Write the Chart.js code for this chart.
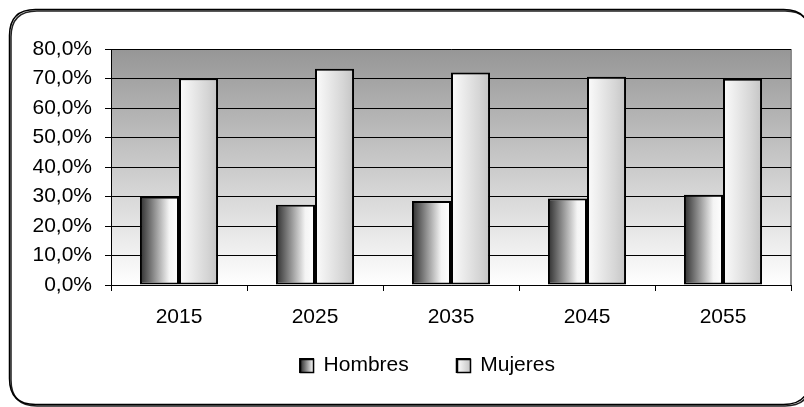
<!DOCTYPE html>
<html>
<head>
<meta charset="utf-8">
<script src="https://cdn.jsdelivr.net/npm/chart.js@4"></script>
<style>
  html, body { margin: 0; padding: 0; background: #fff; }
  #wrap { width: 804px; height: 407px; }
</style>
</head>
<body>
<div id="wrap"><canvas id="myChart" width="804" height="407"></canvas></div>
<script>
// Data
const years = ['2015', '2025', '2035', '2045', '2055'];
const seriesNames = ['Hombres', 'Mujeres'];
const hombres = [29.9, 27.2, 28.5, 29.3, 30.6];
const mujeres = [70.1, 73.3, 72.0, 70.6, 69.9];

const catPct = 0.574;

// gradient for each bar, worked out from the x scale
function barFill(stops) {
    return function (context) {
        const chart = context.chart;
        const xScale = chart.scales.x;
        if (!xScale || context.type !== 'data') {
            return stops[1];
        }
        const center = xScale.getPixelForValue(context.dataIndex);
        const barWidth = xScale.width / years.length * catPct / 2;
        const left = context.datasetIndex === 0 ? center - barWidth : center;
        if (!isFinite(left) || !isFinite(barWidth) || barWidth <= 0) {
            return stops[1];
        }
        const g = chart.ctx.createLinearGradient(left, 0, left + barWidth, 0);
        g.addColorStop(0, stops[0]);
        g.addColorStop(0.75, stops[1]);
        g.addColorStop(1, stops[2]);
        return g;
    };
}
const hombresStops = ['#2e2e2e', '#f4f4f4', '#ffffff'];
const mujeresStops = ['#fcfcfc', '#d4d4d4', '#c4c4c4'];

function roundRect(ctx, x, y, w, h, r) {
    ctx.beginPath();
    ctx.moveTo(x + r, y);
    ctx.lineTo(x + w - r, y);
    ctx.quadraticCurveTo(x + w, y, x + w, y + r);
    ctx.lineTo(x + w, y + h - r);
    ctx.quadraticCurveTo(x + w, y + h, x + w - r, y + h);
    ctx.lineTo(x + r, y + h);
    ctx.quadraticCurveTo(x, y + h, x, y + h - r);
    ctx.lineTo(x, y + r);
    ctx.quadraticCurveTo(x, y, x + r, y);
    ctx.closePath();
}

const frame = {
    id: 'frame',
    afterLayout: (chart) => {
        // legend sits a bit right of centre, with wide gaps between items
        const lg = chart.legend;
        lg.left = 62;
        lg.right = chart.chartArea.right + 2;
        lg.width = lg.right - lg.left;
        lg.top = 307;
        lg.bottom = 386;
        lg.height = lg.bottom - lg.top;
    },
    beforeDraw: (chart) => {
        const { ctx, width, height, chartArea } = chart;
        ctx.save();
        ctx.fillStyle = 'white';
        ctx.fillRect(0, 0, width, height);
        // outer rounded frame with a small shadow
        ctx.strokeStyle = '#222';
        ctx.lineWidth = 1.5;
        roundRect(ctx, 11, 11, 800, 395, 26);
        ctx.stroke();
        ctx.strokeStyle = 'black';
        roundRect(ctx, 9.5, 9.5, 800, 395, 26);
        ctx.stroke();
        // plot area
        const g = ctx.createLinearGradient(0, chartArea.top, 0, chartArea.bottom);
        g.addColorStop(0, '#969696');
        g.addColorStop(1, '#ffffff');
        ctx.fillStyle = g;
        ctx.fillRect(chartArea.left, chartArea.top, chartArea.width, chartArea.height);
        ctx.strokeStyle = '#8c8c8c';
        ctx.lineWidth = 2;
        ctx.beginPath();
        ctx.moveTo(chartArea.right, chartArea.top);
        ctx.lineTo(chartArea.right, chartArea.bottom);
        ctx.stroke();
        ctx.restore();
    },
    afterDraw: (chart) => {
        // gradient legend boxes
        const { ctx } = chart;
        const boxes = chart.legend.legendHitBoxes || [];
        const allStops = [hombresStops, mujeresStops];
        ctx.save();
        boxes.forEach((hb, i) => {
            const x = Math.round(hb.left) + 0.5;
            const y = Math.round(hb.top + 4) + 0.5;
            if (!isFinite(x) || !isFinite(y)) {
                return;
            }
            const g = ctx.createLinearGradient(x, 0, x + 13, 0);
            g.addColorStop(0, allStops[i][0]);
            g.addColorStop(1, allStops[i][2]);
            ctx.fillStyle = g;
            ctx.fillRect(x, y, 13, 13);
            ctx.strokeStyle = 'black';
            ctx.lineWidth = 1.5;
            ctx.strokeRect(x, y, 13, 13);
        });
        ctx.restore();
    }
};

Chart.defaults.font.family = '"Liberation Sans", Arial, sans-serif';
Chart.defaults.font.size = 21;
Chart.defaults.color = '#000';

const ctx = document.getElementById('myChart');
const myChart = new Chart(ctx, {
    type: 'bar',
    data: {
        labels: years,
        datasets: [{
            label: seriesNames[0],
            data: hombres,
            backgroundColor: barFill(hombresStops),
            borderColor: 'black',
            borderWidth: 2,
            borderSkipped: false
        }, {
            label: seriesNames[1],
            data: mujeres,
            backgroundColor: barFill(mujeresStops),
            borderColor: 'black',
            borderWidth: 2,
            borderSkipped: false
        }]
    },
    options: {
        responsive: false,
        animation: false,
        categoryPercentage: catPct,
        barPercentage: 1,
        layout: {
            padding: { top: 49, right: 13, left: 0, bottom: 0 }
        },
        scales: {
            x: {
                afterFit: (scale) => { scale.height = 43; },
                grid: {
                    drawOnChartArea: false,
                    color: 'black',
                    tickLength: 6
                },
                border: { color: 'black', width: 1 },
                ticks: { padding: 14 }
            },
            y: {
                min: 0,
                max: 80,
                afterFit: (scale) => { scale.width = 111; },
                grid: {
                    color: 'black',
                    lineWidth: 1,
                    tickLength: 6
                },
                border: { color: 'black', width: 1 },
                ticks: {
                    stepSize: 10,
                    padding: 13,
                    callback: (v) => v.toFixed(1).replace('.', ',') + '%'
                }
            }
        },
        plugins: {
            legend: {
                position: 'bottom',
                labels: {
                    boxWidth: 13,
                    boxHeight: 13,
                    padding: 48,
                    color: 'black'
                }
            },
            tooltip: { enabled: false }
        }
    },
    plugins: [frame]
});
</script>
</body>
</html>
